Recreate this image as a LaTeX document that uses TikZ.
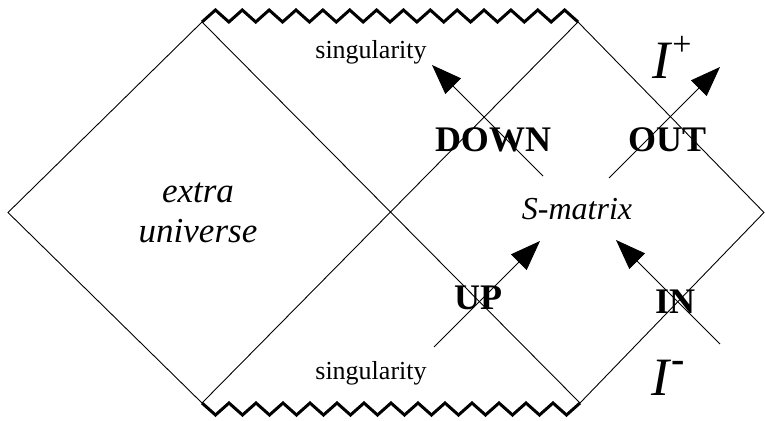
\documentclass[tikz,border=0pt]{standalone}
\usepackage{fontspec}
\setmainfont{Liberation Serif}
\usetikzlibrary{arrows.meta}

\begin{document}
\begin{tikzpicture}[x=1pt, y=-1pt,
    edge/.style={line width=0.9pt},
    sing/.style={line width=3pt, line join=miter},
    flow/.style={line width=0.9pt, -{Triangle[length=30pt,width=22pt]}},
    lbl/.style={font=\fontsize{36}{36}\selectfont\bfseries, inner sep=0pt},
    note/.style={font=\fontsize{26}{28}\selectfont, inner sep=0pt}]
  \useasboundingbox (0,0) rectangle (765,420);
  % corners of the diagram
  \coordinate (L)  at (8,212.5);
  \coordinate (TL) at (202,22);
  \coordinate (TR) at (578,22);
  \coordinate (BL) at (202,403);
  \coordinate (BR) at (580,403);
  \coordinate (R)  at (764,212.5);
  \draw[edge] (L) -- (TL) -- (BR) -- (R) -- (TR) -- (BL) -- cycle;
  % singularities
  \draw[sing] (TL) \foreach \k in {1,...,14} { -- (202+26.86*\k-13.43,10) -- (202+26.86*\k,22) };
  \draw[sing] (BL) \foreach \k in {1,...,14} { -- (202+27*\k-13.5,415) -- (202+27*\k,403) };
  \node[note] (singtop) at (371,52) {singularity};
  \node[note] (singbot) at (371,373) {singularity};
  \node[font=\fontsize{35}{40}\selectfont\itshape, align=center, inner sep=0pt] (extra) at (198,213) {extra\\universe};
  \node[font=\fontsize{32}{32}\selectfont\itshape, inner sep=0pt] (smatrix) at (577,209) {S-matrix};
  % scattering labels
  \node[lbl] (down) at (493,140) {DOWN};
  \node[lbl] (out)  at (667,140) {OUT};
  \node[lbl] (up)   at (478,298) {UP};
  \node[lbl] (in)   at (675,302) {IN};
  \node[font=\fontsize{54}{54}\selectfont, inner sep=0pt] (iplus) at (672,57)
    {\textit{I}\raisebox{23pt}{\fontsize{34}{34}\selectfont +}};
  \node[font=\fontsize{54}{54}\selectfont, inner sep=0pt] (iminus) at (668,378)
    {\textit{I}\raisebox{23pt}{\fontsize{40}{40}\selectfont\bfseries -}};
  % arrows
  \foreach \n/\tx/\ty/\hx/\hy in {down/543/176/432/65, out/609/178/720/67,
      up/434/347/540/241, in/720/344/616/240} {
    \coordinate (\n tail) at (\tx,\ty);
    \coordinate (\n tip) at (\hx,\hy);
    \draw[flow] (\n tail) -- (\n tip);
  }
\end{tikzpicture}
\end{document}
